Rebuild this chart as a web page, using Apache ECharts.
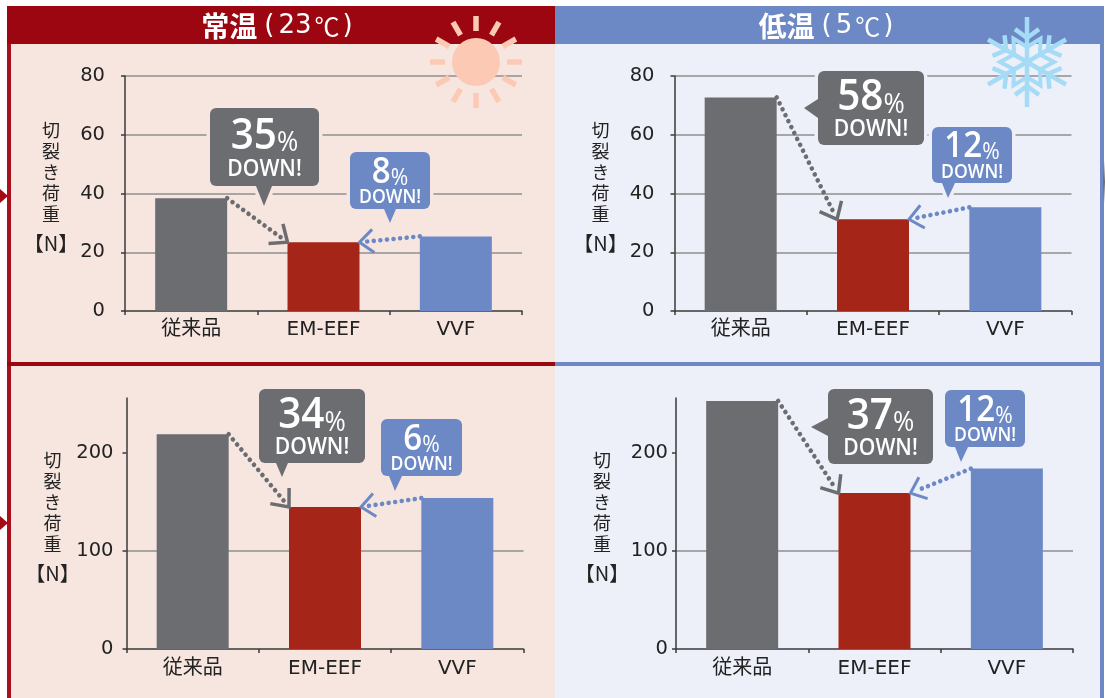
<!DOCTYPE html>
<html>
<head>
<meta charset="utf-8">
<title>切裂き荷重</title>
<script src="https://cdn.jsdelivr.net/npm/echarts@6/dist/echarts.min.js"></script>
<style>
  html, body { margin: 0; padding: 0; background: #fff; }
  #chart { width: 1105px; height: 698px; }
</style>
</head>
<body>
<div id="chart"></div>
<script>
// data
const categories = ['従来品', 'EM-EEF', 'VVF'];
const topRoomValues = [38.4, 23.4, 25.4];
const topColdValues = [72.7, 31.2, 35.3];
const bottomRoomValues = [219, 144.8, 153.9];
const bottomColdValues = [253, 159, 184];
const topTicks = [0, 20, 40, 60, 80];
const bottomTicks = [0, 100, 200];
const grayDrops = ['35', '58', '34', '37'];
const blueDrops = ['8', '12', '6', '12'];
const roomTitle = ['常温', '(', '23', '℃', ')'];
const coldTitle = ['低温', '(', '5', '℃', ')'];
const axisName = ['切', '裂', 'き', '荷', '重', '【N】'];

const RED = '#9c0610', BLUE = '#6c89c5', GRAY = '#6c6d70', BAR_RED = '#a52518';
const PEACH = '#f7e6df', LAVENDER = '#edf0f9';
const barColors = [GRAY, BAR_RED, BLUE];
const BAR_WIDTH = 72;
const FONT = '"Open Sans", "Noto Sans CJK JP", sans-serif';
const AXIS_FONT = '"DejaVu Sans", "Noto Sans CJK JP", sans-serif';
const CJK = '"Noto Sans CJK JP", sans-serif';

// one entry per chart: top-left, top-right, bottom-left, bottom-right
const panels = [
  { values: topRoomValues, ticks: topTicks, max: 80, interval: 20, left: 125, top: 76, width: 397, height: 235, margin: 20, labelGap: 9, bg: PEACH },
  { values: topColdValues, ticks: topTicks, max: 80, interval: 20, left: 674.5, top: 76, width: 397, height: 235, margin: 20, labelGap: 9, bg: LAVENDER },
  { values: bottomRoomValues, ticks: bottomTicks, max: 256, interval: 100, left: 126.5, top: 398, width: 397, height: 251, margin: 13, labelGap: 10, bg: PEACH },
  { values: bottomColdValues, ticks: bottomTicks, max: 256, interval: 100, left: 676, top: 398, width: 397, height: 251, margin: 8, labelGap: 10, bg: LAVENDER }
];

// callout boxes: x, y, w, h and the pointer triangle
const grayBoxes = [
  { x: 210, y: 108, w: 109, h: 78, tri: [[256, 186], [272, 186], [264, 206]] },
  { x: 818, y: 71, w: 106, h: 74, tri: [[818, 99], [818, 118], [804, 108]] },
  { x: 259, y: 389, w: 106, h: 74, tri: [[276, 463], [288, 463], [282, 477]] },
  { x: 828, y: 389, w: 105, h: 75, tri: [[828, 418], [828, 436], [811, 427]] }
];
const blueBoxes = [
  { x: 350, y: 152, w: 80, h: 57, tri: [[384, 209], [396, 209], [390, 223]] },
  { x: 932, y: 127, w: 80, h: 56, tri: [[942, 183], [955, 183], [948, 198]] },
  { x: 381, y: 419, w: 81, h: 57, tri: [[389, 476], [402, 476], [395, 491]] },
  { x: 945, y: 390, w: 80, h: 57, tri: [[955, 447], [968, 447], [961, 462]] }
];

const chart = echarts.init(document.getElementById('chart'));

chart.setOption({
  animation: false,
  backgroundColor: '#fff',
  grid: panels.map(p => ({ left: p.left, top: p.top, width: p.width, height: p.height })),
  xAxis: panels.map((p, i) => ({
    type: 'category',
    gridIndex: i,
    data: categories,
    axisLine: { lineStyle: { color: '#3a3a3a', width: 1.5 } },
    axisTick: { show: true, alignWithLabel: false, length: 4, lineStyle: { color: '#3a3a3a', width: 1.5 } },
    axisLabel: { color: '#222', fontSize: 20, fontFamily: AXIS_FONT, margin: p.labelGap }
  })),
  yAxis: panels.map((p, i) => ({
    type: 'value',
    gridIndex: i,
    min: 0,
    max: p.max,
    interval: p.interval,
    name: axisName.slice(0, 5).join('\n') + '\n{n|' + axisName[5] + '}',
    nameLocation: 'middle',
    nameGap: 74,
    nameMoveOverlap: false,
    nameRotate: 0,
    nameTextStyle: {
      color: '#222', fontSize: 18, fontFamily: CJK, lineHeight: 21, align: 'center',
      padding: [0, 0, 6, 0],
      rich: { n: { color: '#222', fontSize: 20, fontFamily: CJK, lineHeight: 37 } }
    },
    axisLine: { show: true, lineStyle: { color: '#3a3a3a', width: 1.5 } },
    axisTick: { show: true, length: 4, customValues: p.ticks, lineStyle: { color: '#3a3a3a', width: 1.5 } },
    axisLabel: { color: '#222', fontSize: 19.5, fontFamily: AXIS_FONT, margin: p.margin, customValues: p.ticks },
    splitLine: { show: true, showMinLine: false, showMaxLine: p.max === 80, lineStyle: { color: '#8f8f8f', width: 1.5 } }
  })),
  series: panels.map((p, i) => ({
    type: 'bar',
    xAxisIndex: i,
    yAxisIndex: i,
    barWidth: BAR_WIDTH,
    data: p.values,
    z: 3,
    itemStyle: { color: params => barColors[params.dataIndex] }
  }))
});

function backdrop() {
  const rect = (x, y, width, height, fill) => ({ type: 'rect', z: -5, silent: true, shape: { x, y, width, height }, style: { fill } });
  const edge = cy => ({ type: 'polygon', z: -4, silent: true, shape: { points: [[0, cy - 7], [8, cy], [0, cy + 7]] }, style: { fill: '#a30a14' } });
  return [
    rect(7, 44, 548, 654, PEACH),
    rect(555, 44, 546, 654, LAVENDER),
    rect(7, 6, 548, 38, RED),
    rect(555, 6, 549, 38, BLUE),
    rect(7, 44, 4, 654, '#a90f1c'),
    rect(1100, 44, 4, 654, BLUE),
    rect(7, 362, 548, 4, RED),
    rect(555, 362, 546, 4, BLUE),
    edge(196),
    edge(523),
    {
      type: 'rect', z: -4, silent: true,
      shape: { x: 1103, y: 160, width: 2, height: 44 },
      style: { fill: new echarts.graphic.LinearGradient(0, 0, 0, 1, [
        { offset: 0, color: 'rgba(110,110,115,0)' },
        { offset: 0.5, color: 'rgba(110,110,115,1)' },
        { offset: 1, color: 'rgba(110,110,115,0)' }
      ]) }
    }
  ];
}

function header(parts, cx) {
  return {
    type: 'text', z: 20, silent: true, x: cx, y: 26.5,
    style: {
      text: '{a|' + parts[0] + '}{l|' + parts[1] + '}{d|' + parts[2] + '}{c|' + parts[3] + '}{r|' + parts[4] + '}',
      align: 'center', verticalAlign: 'middle',
      rich: {
        a: { fill: '#fff', fontSize: 28, fontWeight: 'bold', fontFamily: CJK },
        l: { fill: '#fff', fontSize: 26, fontFamily: AXIS_FONT, padding: [0, 4, 0, 7] },
        d: { fill: '#fff', fontSize: 26, fontFamily: AXIS_FONT, padding: [0, 3, 0, 0] },
        c: { fill: '#fff', fontSize: 25, fontFamily: CJK, padding: [0, 3, 0, 0] },
        r: { fill: '#fff', fontSize: 26, fontFamily: AXIS_FONT }
      }
    }
  };
}

function sun(cx, cy) {
  const fill = '#fccab4';
  const out = [{ type: 'circle', z: 20, silent: true, shape: { cx, cy, r: 24 }, style: { fill } }];
  for (let k = 0; k < 12; k++) {
    const a = k * Math.PI / 6;
    out.push({
      type: 'line', z: 20, silent: true,
      shape: { x1: cx + Math.sin(a) * 31, y1: cy - Math.cos(a) * 31, x2: cx + Math.sin(a) * 46, y2: cy - Math.cos(a) * 46 },
      style: { stroke: fill, lineWidth: 5.5, fill: null }
    });
  }
  return out;
}

function snowflake(cx, cy) {
  const stroke = '#a5dbf6';
  const out = [];
  const at = (deg, r) => [cx + Math.sin(deg * Math.PI / 180) * r, cy - Math.cos(deg * Math.PI / 180) * r];
  const seg = (a, b) => ({ type: 'line', z: 20, silent: true, shape: { x1: a[0], y1: a[1], x2: b[0], y2: b[1] }, style: { stroke, lineWidth: 4.5, fill: null } });
  const star = [];
  for (let k = 0; k < 6; k++) {
    const deg = k * 60;
    out.push(seg(at(deg, 0), at(deg, 45)));
    // small side branches near the end of the arm
    out.push(seg(at(deg, 24), at(deg - 20, 35)));
    out.push(seg(at(deg, 24), at(deg + 20, 35)));
    star.push(at(deg, 15), at(deg + 30, 27));
  }
  out.push({ type: 'polygon', z: 20, silent: true, shape: { points: star }, style: { fill: null, stroke, lineWidth: 4 } });
  return out;
}

function callout(box, pct, fill, bg, large) {
  const numSize = large ? 44 : 36;
  const pctSize = large ? 28 : 23;
  const downSize = large ? 24 : 20;
  const numY = large ? 0.36 : 0.36;
  const downY = large ? 0.79 : 0.8;
  const r = 6;
  const num = {
    type: 'text', z: 32, silent: true,
    x: box.x + box.w / 2, y: box.y + box.h * numY, scaleX: 0.92,
    style: {
      text: '{n|' + pct + '}{p|%}',
      align: 'center', verticalAlign: 'middle',
      rich: {
        n: { fill: '#fff', fontSize: numSize, fontWeight: 600, fontFamily: FONT, verticalAlign: 'bottom' },
        p: { fill: '#fff', fontSize: pctSize, fontFamily: FONT, verticalAlign: 'bottom', padding: [0, 0, 1, 0] }
      }
    }
  };
  const down = {
    type: 'text', z: 32, silent: true,
    x: box.x + box.w / 2, y: box.y + box.h * downY, scaleX: 0.88,
    style: { text: 'DOWN!', fill: '#fff', fontSize: downSize, fontWeight: 600, fontFamily: FONT, align: 'center', verticalAlign: 'middle' }
  };
  return [
    { type: 'rect', z: 30, silent: true, shape: { x: box.x, y: box.y, width: box.w, height: box.h, r }, style: { fill: bg, stroke: bg, lineWidth: 7 } },
    { type: 'polygon', z: 30, silent: true, shape: { points: box.tri }, style: { fill: bg, stroke: bg, lineWidth: 7 } },
    { type: 'rect', z: 31, silent: true, shape: { x: box.x, y: box.y, width: box.w, height: box.h, r }, style: { fill } },
    { type: 'polygon', z: 31, silent: true, shape: { points: box.tri }, style: { fill } },
    num,
    down
  ];
}

// dotted arrow from the corner of one bar to the corner of the EM-EEF bar
function arrow(from, to, color, armLen, width) {
  const dx = from[0] - to[0], dy = from[1] - to[1];
  const len = Math.sqrt(dx * dx + dy * dy);
  const back = Math.atan2(dy, dx);
  const arm = sign => {
    const a = back + sign * 40 * Math.PI / 180;
    return [to[0] + Math.cos(a) * armLen, to[1] + Math.sin(a) * armLen];
  };
  const stop = [to[0] + dx / len * 7, to[1] + dy / len * 7];
  return [
    {
      type: 'line', z: 25, silent: true,
      shape: { x1: from[0], y1: from[1], x2: stop[0], y2: stop[1] },
      style: { stroke: color, lineWidth: 4.6, lineCap: 'round', lineDash: [0.01, 6.6], fill: null }
    },
    {
      type: 'polyline', z: 25, silent: true,
      shape: { points: [arm(1), to, arm(-1)] },
      style: { stroke: color, lineWidth: width, fill: null }
    }
  ];
}

function arrows() {
  let out = [];
  panels.forEach((p, i) => {
    const pt = idx => chart.convertToPixel({ gridIndex: i }, [idx, p.values[idx]]);
    const first = pt(0), mid = pt(1), last = pt(2);
    out = out.concat(arrow([first[0] + BAR_WIDTH / 2, first[1]], [mid[0] - BAR_WIDTH / 2, mid[1]], GRAY, 19, 3.5));
    out = out.concat(arrow([last[0] - BAR_WIDTH / 2, last[1]], [mid[0] + BAR_WIDTH / 2, mid[1]], BLUE, 18, 3));
  });
  return out;
}

let elements = backdrop();
elements.push(header(roomTitle, 277), header(coldTitle, 826));
elements = elements.concat(sun(476, 62), snowflake(1027, 62), arrows());
panels.forEach((p, i) => {
  elements = elements.concat(callout(grayBoxes[i], grayDrops[i], GRAY, p.bg, true));
  elements = elements.concat(callout(blueBoxes[i], blueDrops[i], BLUE, p.bg, false));
});

chart.setOption({ graphic: { elements } });
</script>
</body>
</html>
